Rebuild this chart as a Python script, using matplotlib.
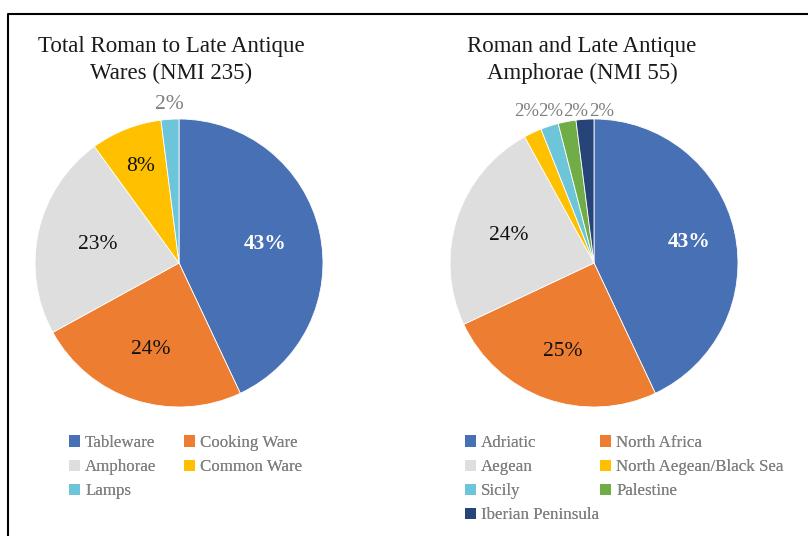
import matplotlib.pyplot as plt
from matplotlib.lines import Line2D
from matplotlib.patches import Patch
import numpy as np

plt.rcParams['font.family'] = ['Liberation Serif', 'DejaVu Serif']

W, H = 808, 536

# --- data ---
wares_title = 'Total Roman to Late Antique\nWares (NMI 235)'
wares_labels = ['Tableware', 'Cooking Ware', 'Amphorae', 'Common Ware', 'Lamps']
wares_pct = [43, 24, 23, 8, 2]

amph_title = 'Roman and Late Antique\nAmphorae (NMI 55)'
amph_labels = ['Adriatic', 'North Africa', 'Aegean', 'North Aegean/Black Sea',
               'Sicily', 'Palestine', 'Iberian Peninsula']
amph_pct = [43, 25, 24, 2, 2, 2, 2]

# --- style ---
wares_colors = ['#4871B5', '#ED7D31', '#DEDEDF', '#FFC000', '#6CC5D9']
amph_colors = ['#4871B5', '#ED7D31', '#DEDEDF', '#FFC000', '#6CC5D9', '#70AD47', '#264478']
R_PX = 144


def px_ax(cx, cy, half=150):
    return [(cx - half) / W, (H - cy - half) / H, 2 * half / W, 2 * half / H]


def draw_pie(cx, cy, values, colors, label_r, label_xy=None, outer_fs=15.5):
    ax = fig.add_axes(px_ax(cx, cy))
    wedges, _ = ax.pie(values, colors=colors, startangle=90, counterclock=False,
                       radius=1, wedgeprops=dict(edgecolor='white', linewidth=0.6))
    lim = 150 / R_PX
    ax.set_xlim(-lim, lim)
    ax.set_ylim(-lim, lim)
    ax.set_aspect('equal')
    ax.axis('off')
    label_xy = label_xy or {}
    for i, (w, v) in enumerate(zip(wedges, values)):
        mid = np.deg2rad((w.theta1 + w.theta2) / 2)
        r = label_r[i]
        if i in label_xy:
            x, y = label_xy[i]
        else:
            x, y = r * np.cos(mid), r * np.sin(mid)
        fs = 15.5
        if i == 0:
            kw = dict(color='white', fontweight='bold')
        elif r > 1:
            kw = dict(color='#7F7F7F')
            fs = outer_fs
        else:
            kw = dict(color='#111111')
        ax.text(x, y, f'{v}%', ha='center', va='center', fontsize=fs, **kw)
    return wedges


def add_legend(wedges, labels, cols, col_x_px, y_px):
    for col, xp in zip(cols, col_x_px):
        handles = [Patch(facecolor=wedges[i].get_facecolor(), edgecolor='none') for i in col]
        leg = fig.legend(handles, [labels[i] for i in col], loc='upper left',
                         bbox_to_anchor=(xp / W, 1 - y_px / H), frameon=False,
                         fontsize=12.2, labelcolor='#808080', handlelength=0.65,
                         handleheight=0.65, handletextpad=0.3, labelspacing=0.48,
                         borderpad=0, borderaxespad=0)
        fig.add_artist(leg)


fig = plt.figure(figsize=(W / 100, H / 100), dpi=100)

w1 = draw_pie(179, 263, wares_pct, wares_colors, [0.61, 0.63, 0.58, 0.72, 1.10])
w2 = draw_pie(594, 263, amph_pct, amph_colors, [0.68, 0.65, 0.62, 1.1, 1.1, 1.1, 1.1],
              label_xy={3: (-0.47, 1.05), 4: (-0.30, 1.05), 5: (-0.125, 1.05), 6: (0.05, 1.05)},
              outer_fs=13.5)

fig.text(171 / W, 1 - 60 / H, wares_title, ha='center', va='center',
         fontsize=16.5, color='#1a1a1a', linespacing=1.4)
fig.text(582 / W, 1 - 60 / H, amph_title, ha='center', va='center',
         fontsize=16.5, color='#1a1a1a', linespacing=1.4)

add_legend(w1, wares_labels, [[0, 2, 4], [1, 3]], [69, 184], 435)
add_legend(w2, amph_labels, [[0, 2, 4, 6], [1, 3, 5]], [465, 600], 435)

# border of the original chart frame
fig.add_artist(Line2D([8 / W, 8 / W, 1], [0, 1 - 14 / H, 1 - 14 / H],
                      color='black', linewidth=1.5, transform=fig.transFigure))

fig.savefig('out.png', dpi=100)
